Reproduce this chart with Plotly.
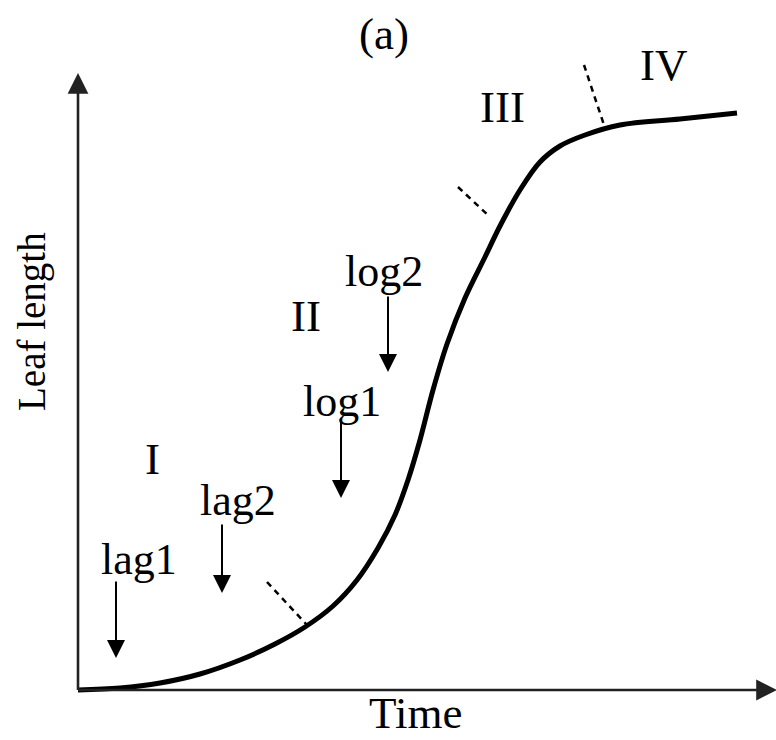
import plotly.graph_objects as go

# Growth curve of leaf length over time (schematic units)
time_pts = [0.0, 4.2, 8.2, 12.2, 16.2, 19.7, 22.7, 25.5, 27.9, 30.0, 31.7, 33.0,
            34.2, 35.5, 36.9, 38.7, 40.7, 42.2, 44.2, 46.2, 48.2, 50.7, 54.2, 60.2, 65.9]
length_pts = [0.0, 0.2, 0.7, 1.6, 3.0, 4.6, 6.3, 8.4, 11.0, 14.2, 17.5, 21.0,
              25.0, 30.0, 34.6, 39.2, 43.3, 46.4, 50.0, 52.8, 54.4, 55.5, 56.5, 57.1, 57.7]

# Phase boundaries (dashed ticks across the curve): (t0, l0, t1, l1)
boundaries = [(18.9, 10.8, 22.9, 6.5),
              (38.0, 50.3, 41.2, 47.3),
              (50.6, 62.5, 52.7, 56.2)]

# Phase labels
phase_labels = ["I", "II", "III", "IV"]
phase_t = [7.4, 22.8, 42.4, 58.5]
phase_l = [23.1, 37.4, 58.3, 62.5]

# Sub-stage markers: label and arrow (t, start length, end length)
stage_labels = ["lag1", "lag2", "log1", "log2"]
stage_label_t = [6.1, 16.0, 26.4, 30.6]
stage_label_l = [13.1, 19.0, 28.9, 41.9]
stage_arrow_t = [3.8, 14.4, 26.3, 31.0]
stage_arrow_from = [11.0, 16.7, 27.2, 39.5]
stage_arrow_to = [3.2, 9.7, 19.2, 31.8]

FONT = "Liberation Serif"
FS = 45

fig = go.Figure()

fig.add_trace(go.Scatter(x=time_pts, y=length_pts, mode="lines",
                         line=dict(color="black", width=5, shape="spline", smoothing=1.0),
                         hoverinfo="skip", showlegend=False))

for t0, l0, t1, l1 in boundaries:
    fig.add_trace(go.Scatter(x=[t0, t1], y=[l0, l1], mode="lines",
                             line=dict(color="black", width=2.5, dash="6px,5px"),
                             hoverinfo="skip", showlegend=False))

annotations = []

# Axes drawn as arrows
annotations.append(dict(x=0, y=61.7, ax=0, ay=-0.15, xref="x", yref="y", axref="x", ayref="y",
                        text="", showarrow=True, arrowhead=2, arrowsize=1.6, arrowwidth=2.6,
                        arrowcolor="#222"))
annotations.append(dict(x=69.9, y=0, ax=-0.15, ay=0, xref="x", yref="y", axref="x", ayref="y",
                        text="", showarrow=True, arrowhead=2, arrowsize=1.6, arrowwidth=2.6,
                        arrowcolor="#222"))

for lab, t, l in zip(phase_labels, phase_t, phase_l):
    annotations.append(dict(x=t, y=l, xref="x", yref="y", text=lab, showarrow=False,
                            font=dict(family=FONT, size=FS, color="black")))

for lab, t, l in zip(stage_labels, stage_label_t, stage_label_l):
    annotations.append(dict(x=t, y=l, xref="x", yref="y", text=lab, showarrow=False,
                            font=dict(family=FONT, size=FS - 1, color="black")))

for t, l0, l1 in zip(stage_arrow_t, stage_arrow_from, stage_arrow_to):
    annotations.append(dict(x=t, y=l1, ax=t, ay=l0, xref="x", yref="y", axref="x", ayref="y",
                            text="", showarrow=True, arrowhead=2, arrowsize=1.8, arrowwidth=2,
                            arrowcolor="black"))

annotations.append(dict(x=30.6, y=65.6, xref="x", yref="y", text="(a)", showarrow=False,
                        font=dict(family=FONT, size=FS, color="black")))
annotations.append(dict(x=33.7, y=-5.0, xref="x", yref="y", yanchor="bottom", text="Time",
                        showarrow=False, font=dict(family=FONT, size=FS, color="black")))
annotations.append(dict(x=-4.6, y=36.8, xref="x", yref="y", text="Leaf length", textangle=-90,
                        showarrow=False, font=dict(family=FONT, size=39, color="black")))

fig.update_layout(
    width=776, height=740,
    margin=dict(l=0, r=0, t=0, b=0),
    paper_bgcolor="white", plot_bgcolor="white",
    xaxis=dict(range=[-7.8, 69.8], visible=False, fixedrange=True),
    yaxis=dict(range=[-5.0, 69.0], visible=False, fixedrange=True),
    annotations=annotations,
)

fig.write_html("out.html")
